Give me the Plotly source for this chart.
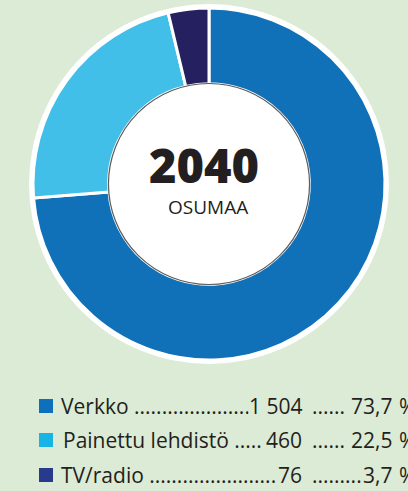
import plotly.graph_objects as go

categories = ["Verkko", "Painettu lehdistö", "TV/radio"]
values = [1504, 460, 76]
value_labels = ["1 504", "460", "76"]
pct_labels = ["73,7", "22,5", "3,7"]
total_label = "2040"
center_sub = "OSUMAA"

slice_colors = ["#1070B8", "#42BFE8", "#25205F"]
legend_colors = ["#0E6FBA", "#18B4E6", "#283A8C"]
BG = "#DCEBD5"
TXT = "#231F20"

W, H = 408, 491
cx, cy = 209, 184


def dom(r):
    return dict(x=[(cx - r) / W, (cx + r) / W],
                y=[1 - (cy + r) / H, 1 - (cy - r) / H])


fig = go.Figure()
# outer white ring
fig.add_trace(go.Pie(values=[1], domain=dom(180), marker=dict(colors=["white"], line=dict(width=0)),
                     textinfo="none", hoverinfo="skip", showlegend=False, sort=False))
# donut
fig.add_trace(go.Pie(labels=categories, values=values, domain=dom(176), hole=0.57,
                     sort=False, direction="clockwise", rotation=0,
                     marker=dict(colors=slice_colors, line=dict(color="white", width=3)),
                     textinfo="none", hoverinfo="skip", showlegend=False))
# inner white disc
fig.add_trace(go.Pie(values=[1], domain=dom(100.5), marker=dict(colors=["white"], line=dict(color="#5a5a5a", width=1.2)),
                     textinfo="none", hoverinfo="skip", showlegend=False, sort=False))

FONT = "Open Sans"


def px(x):
    return x / W


def py(y):
    return 1 - y / H


ann = []
ann.append(dict(x=px(204), y=py(165), text=total_label, showarrow=False,
                font=dict(family=FONT, size=47, color=TXT, weight=800), xanchor="center", yanchor="middle"))
ann.append(dict(x=px(208), y=py(207), text=center_sub, showarrow=False,
                font=dict(family=FONT, size=19, color=TXT), xanchor="center", yanchor="middle"))

rows_y = [406, 440, 475]
label_x = [59, 61, 59]
dots1 = [".....................", ".....", "......................."]
dots2 = ["......", "......", "........."]
shapes = []
for i in range(3):
    y = rows_y[i]
    f = dict(family=FONT, size=21, color=TXT)
    ann.append(dict(x=px(label_x[i]), y=py(y), text=categories[i] + " " + dots1[i], showarrow=False,
                    font=f, xanchor="left", yanchor="middle"))
    ann.append(dict(x=px(303), y=py(y), text=value_labels[i], showarrow=False,
                    font=f, xanchor="right", yanchor="middle", bgcolor=BG, borderpad=0))
    ann.append(dict(x=px(310), y=py(y), text=dots2[i], showarrow=False,
                    font=f, xanchor="left", yanchor="middle"))
    ann.append(dict(x=px(394), y=py(y), text=pct_labels[i], showarrow=False,
                    font=f, xanchor="right", yanchor="middle"))
    ann.append(dict(x=px(397), y=py(y), text="%", showarrow=False,
                    font=f, xanchor="left", yanchor="middle"))
    shapes.append(dict(type="rect", xref="paper", yref="paper",
                       x0=px(39), x1=px(53), y0=py(y - 7), y1=py(y + 7),
                       fillcolor=legend_colors[i], line=dict(width=0)))

fig.update_layout(width=W, height=H, margin=dict(l=0, r=0, t=0, b=0),
                  paper_bgcolor=BG, plot_bgcolor=BG, annotations=ann, shapes=shapes,
                  showlegend=False)
fig.write_html("out.html", config={"displayModeBar": False},
               post_script="document.body.style.margin='0';document.body.style.overflow='hidden';")
